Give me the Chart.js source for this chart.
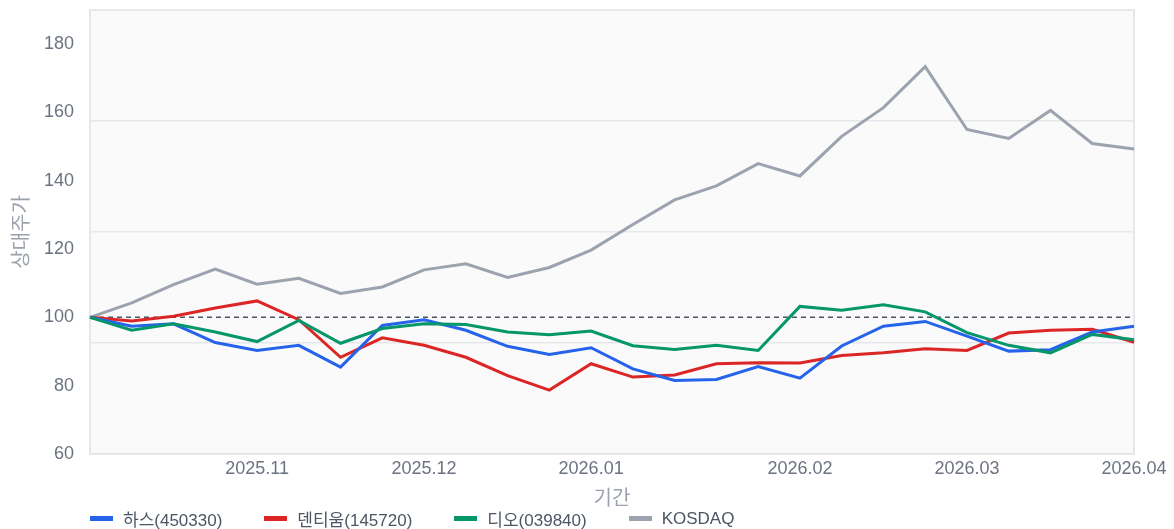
<!DOCTYPE html>
<html lang="ko">
<head>
<meta charset="utf-8">
<title>상대주가 비교</title>
<script src="https://cdn.jsdelivr.net/npm/chart.js@4/dist/chart.umd.min.js"></script>
<style>
  html, body { margin: 0; padding: 0; background: #fff; }
  #wrap { position: relative; width: 1174px; height: 529px; }
  #legend {
    position: absolute; left: 90px; top: 506px;
    display: flex; align-items: center;
    font: 17px "Liberation Sans", "Noto Sans CJK KR", sans-serif;
    color: #4b5563;
  }
  .item { display: flex; align-items: center; margin-right: 42px; }
  .bar { width: 23px; height: 5px; margin-right: 10px; }
</style>
</head>
<body>
<div id="wrap">
  <canvas id="chart"></canvas>
  <div id="legend"></div>
</div>
<script>
// weekly points, only month starts get a label
const xLabels = ["", "", "", "", "2025.11", "", "", "", "2025.12", "", "", "", "2026.01",
  "", "", "", "", "2026.02", "", "", "", "2026.03", "", "", "", "2026.04"];

const seriesNames = ["하스(450330)", "덴티움(145720)", "디오(039840)", "KOSDAQ"];
const seriesColors = ["#2563eb", "#dc2626", "#059669", "#9ca3af"];

const hass = [100, 97.4, 98.1, 92.6, 90.3, 91.8, 85.4, 97.6, 99.3, 96.2, 91.5, 89.1, 91.1,
  84.9, 81.5, 81.8, 85.6, 82.2, 91.6, 97.4, 98.8, 94.5, 90.1, 90.5, 95.7, 97.4];
const dentium = [100, 98.9, 100.3, 102.7, 104.8, 99.3, 88.3, 94.0, 91.8, 88.3, 82.9, 78.7, 86.4,
  82.5, 83.1, 86.4, 86.7, 86.6, 88.8, 89.6, 90.8, 90.3, 95.4, 96.2, 96.5, 92.7];
const dio = [100, 96.2, 98.1, 95.7, 92.9, 99.1, 92.4, 96.7, 98.1, 97.9, 95.7, 94.9, 96.0,
  91.7, 90.6, 91.8, 90.3, 103.2, 102.1, 103.7, 101.6, 95.5, 91.8, 89.6, 95.0, 93.4];
const kosdaq = [100, 104.2, 109.6, 114.1, 109.7, 111.4, 107.0, 108.9, 113.9, 115.7, 111.7, 114.6, 119.7,
  127.2, 134.4, 138.5, 145.0, 141.4, 153.0, 161.4, 173.4, 155.0, 152.4, 160.6, 150.9, 149.3];
const baseLine = xLabels.map(() => 100);

const FONT = "'Liberation Sans', 'Noto Sans CJK KR', sans-serif";

// plot background + frame
const plotFrame = {
  id: "plotFrame",
  beforeDraw(chart) {
    const { ctx, chartArea: a } = chart;
    ctx.save();
    ctx.fillStyle = "#fafafa";
    ctx.fillRect(a.left, a.top, a.width, a.height);
    ctx.strokeStyle = "#e5e7eb";
    ctx.lineWidth = 2;
    ctx.strokeRect(a.left, a.top, a.width, a.height);
    ctx.restore();
  }
};

const lineSet = (label, data, color, order) => ({
  label, data, order,
  borderColor: color,
  backgroundColor: color,
  borderWidth: 3,
  pointRadius: 0,
  tension: 0,
  fill: false
});

new Chart(document.getElementById("chart"), {
  type: "line",
  data: {
    labels: xLabels,
    datasets: [
      lineSet(seriesNames[0], hass, seriesColors[0], 1),
      lineSet(seriesNames[1], dentium, seriesColors[1], 2),
      lineSet(seriesNames[2], dio, seriesColors[2], 0),
      lineSet(seriesNames[3], kosdaq, seriesColors[3], 4),
      {
        label: "기준", data: baseLine, order: 3,
        borderColor: "#4b5563", borderWidth: 1.5, borderDash: [5, 4],
        pointRadius: 0, fill: false
      }
    ]
  },
  options: {
    responsive: true,
    maintainAspectRatio: false,
    animation: false,
    layout: { padding: { top: 10, right: 40, bottom: 17.5, left: 0 } },
    plugins: {
      legend: { display: false },
      tooltip: { enabled: false }
    },
    scales: {
      x: {
        grid: { display: false, drawTicks: false },
        border: { display: false },
        ticks: {
          autoSkip: false, maxRotation: 0, padding: 4,
          color: "#6b7280", font: { family: FONT, size: 18 }
        },
        title: {
          display: true, text: "기간", color: "#9ca3af",
          font: { family: FONT, size: 20 }, padding: { top: 4, bottom: 0 }
        }
      },
      y: {
        min: 60, max: 190,
        grid: { display: false, drawTicks: false },
        border: { display: false },
        ticks: {
          stepSize: 20, includeBounds: false, padding: 16,
          color: "#6b7280", font: { family: FONT, size: 18 }
        },
        title: {
          display: true, text: "상대주가", color: "#9ca3af",
          font: { family: FONT, size: 20 }, padding: { top: 10, bottom: 8 }
        },
        afterFit(scale) {
          scale.width = 90;
          scale.paddingTop = 0;
        }
      },
      // gridlines only, the reference has them off the label steps
      yGrid: {
        position: "right",
        min: 60, max: 190,
        grid: { color: "#e5e7eb", lineWidth: 1.5, drawTicks: false },
        border: { display: false },
        ticks: { display: false, stepSize: 32.5 }
      }
    }
  },
  plugins: [plotFrame]
});

// legend in html, bottom left
const legend = document.getElementById("legend");
seriesNames.forEach((name, i) => {
  const item = document.createElement("div");
  item.className = "item";
  item.innerHTML = `<span class="bar" style="background:${seriesColors[i]}"></span><span>${name}</span>`;
  legend.appendChild(item);
});
</script>
</body>
</html>
